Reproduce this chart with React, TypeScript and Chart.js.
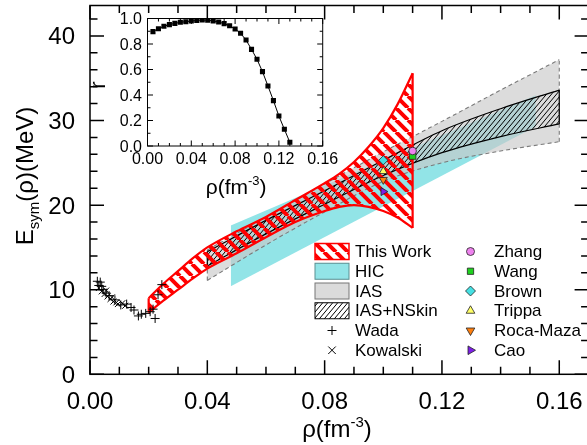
import { useEffect, useRef } from 'react';
import { Chart, registerables } from 'chart.js';

Chart.register(...registerables);

const FONT = "'Liberation Sans', Arial, Helvetica, sans-serif";

// ---------- main axes ----------
const X_MIN = 0;
const X_MAX = 0.17;
const Y_MIN = 0;
const Y_MAX = 43.6;
const xTickValues = [0, 0.04, 0.08, 0.12, 0.16];
const xTickLabels = ['0.00', '0.04', '0.08', '0.12', '0.16'];
const yTickValues = [0, 10, 20, 30, 40];
const yTickLabels = ['0', '10', '20', '30', '40'];

// ---------- This Work band ----------
const thisWorkRho = [0.02, 0.025, 0.03, 0.035, 0.04, 0.05, 0.06, 0.07, 0.08, 0.085, 0.09, 0.095, 0.1, 0.105, 0.11];
const thisWorkUpper = [9.0, 10.7, 12.2, 13.7, 15.0, 16.9, 18.6, 20.6, 22.6, 23.7, 25.1, 26.9, 29.1, 32.0, 35.6];
const thisWorkLower = [7.3, 8.7, 10.0, 11.3, 12.5, 14.3, 16.2, 18.0, 19.3, 19.8, 20.0, 19.8, 19.3, 18.5, 17.3];

// ---------- HIC band ----------
const hicRho = [0.048, 0.152];
const hicUpper = [17.6, 33.0];
const hicLower = [10.4, 29.3];

// ---------- IAS band ----------
const iasRho = [0.04, 0.06, 0.08, 0.1, 0.12, 0.14, 0.16];
const iasUpper = [14.7, 18.6, 22.5, 26.3, 29.9, 33.6, 37.2];
const iasLower = [11.1, 15.3, 19.2, 22.8, 25.0, 26.4, 27.5];

// ---------- IAS+NSkin band ----------
const nskinRho = [0.04, 0.06, 0.08, 0.1, 0.12, 0.14, 0.16];
const nskinUpper = [14.5, 18.2, 21.7, 25.3, 28.8, 31.4, 33.6];
const nskinLower = [12.8, 16.6, 20.1, 23.5, 26.2, 28.1, 29.6];

// ---------- Wada (+) ----------
const wadaRho = [0.0025, 0.003, 0.0035, 0.004, 0.0045, 0.0055, 0.0065, 0.0085, 0.0105, 0.0125, 0.014, 0.015, 0.0165, 0.0175, 0.019, 0.0205, 0.0215, 0.0222, 0.0232, 0.0245];
const wadaE = [11.0, 10.5, 10.9, 10.4, 10.0, 9.6, 9.3, 8.8, 8.2, 8.3, 7.9, 7.6, 6.9, 7.1, 7.2, 7.4, 7.7, 6.6, 9.4, 10.6];

// ---------- Kowalski (x) ----------
const kowalskiRho = [0.003, 0.004, 0.005, 0.0055, 0.006, 0.007, 0.0075, 0.008, 0.009, 0.0095, 0.011, 0.012];
const kowalskiE = [10.2, 9.8, 9.5, 9.9, 9.2, 8.9, 9.1, 8.6, 8.5, 8.3, 8.4, 8.1];

// ---------- single-point constraints ----------
const pointNames = ['Zhang', 'Wang', 'Brown', 'Trippa', 'Roca-Maza', 'Cao'];
const pointRho = [0.11, 0.11, 0.1, 0.1, 0.1, 0.1];
const pointE = [26.4, 25.8, 25.3, 24.0, 23.0, 21.6];
const pointColors = ['#ee82ee', '#1fd11f', '#45e0e3', '#ffff66', '#ff7f0e', '#7d1ee8'];
const pointShapes = ['circle', 'square', 'diamond', 'triUp', 'triDown', 'triRight'];

// ---------- inset ----------
const insetRho = [0.005, 0.01, 0.015, 0.02, 0.025, 0.03, 0.035, 0.04, 0.045, 0.05, 0.055, 0.06, 0.065, 0.07, 0.075, 0.08, 0.085, 0.09, 0.095, 0.1, 0.105, 0.11, 0.115, 0.12, 0.125, 0.13];
const insetR = [0.897, 0.92, 0.939, 0.952, 0.962, 0.97, 0.975, 0.98, 0.985, 0.988, 0.987, 0.981, 0.972, 0.96, 0.943, 0.918, 0.884, 0.831, 0.758, 0.68, 0.583, 0.471, 0.356, 0.235, 0.131, 0.029];
const insetXTicks = [0, 0.04, 0.08, 0.12, 0.16];
const insetXLabels = ['0.00', '0.04', '0.08', '0.12', '0.16'];
const insetYTicks = [0, 0.2, 0.4, 0.6, 0.8, 1.0];
const insetYLabels = ['0.0', '0.2', '0.4', '0.6', '0.8', '1.0'];

const legendLeft = ['This Work', 'HIC', 'IAS', 'IAS+NSkin', 'Wada', 'Kowalski'];

const HIC_COLOR = 'rgb(146,228,231)';
const IAS_COLOR = 'rgba(200,200,200,0.64)';

function makeStripePattern(w: number, h: number, color: string, lw: number, dir: 'back' | 'fwd') {
  const c = document.createElement('canvas');
  c.width = w;
  c.height = h;
  const g = c.getContext('2d')!;
  g.strokeStyle = color;
  g.lineWidth = lw;
  g.beginPath();
  for (let k = -1; k <= 1; k++) {
    if (dir === 'back') {
      g.moveTo(k * w, 0);
      g.lineTo(k * w + w, h);
    } else {
      g.moveTo(k * w, h);
      g.lineTo(k * w + w, 0);
    }
  }
  g.stroke();
  return g.createPattern(c, 'repeat')!;
}

type Part = { text: string; size: number; dy?: number };
function richWidth(ctx: CanvasRenderingContext2D, parts: Part[]) {
  let w = 0;
  for (const p of parts) {
    ctx.font = `${p.size}px ${FONT}`;
    w += ctx.measureText(p.text).width;
  }
  return w;
}
function drawRich(ctx: CanvasRenderingContext2D, parts: Part[], x: number, y: number) {
  ctx.textAlign = 'left';
  ctx.textBaseline = 'alphabetic';
  for (const p of parts) {
    ctx.font = `${p.size}px ${FONT}`;
    ctx.fillText(p.text, x, y + (p.dy || 0));
    x += ctx.measureText(p.text).width;
  }
}

function drawFrame(chart: any, xStep: number, xMajor: number[], yStep: number, yMajor: number[], majorLen: number, minorLen: number, lw: number) {
  const { ctx, chartArea: a } = chart;
  const xs = chart.scales.x;
  const ys = chart.scales.y;
  ctx.save();
  ctx.strokeStyle = '#000';
  ctx.lineWidth = lw;
  ctx.strokeRect(a.left, a.top, a.right - a.left, a.bottom - a.top);
  ctx.beginPath();
  for (let i = 0; ; i++) {
    const v = xs.min + i * xStep;
    if (v > xs.max + 1e-9) break;
    const major = xMajor.some((m) => Math.abs(m - v) < 1e-9);
    const len = major ? majorLen : minorLen;
    const px = xs.getPixelForValue(v);
    ctx.moveTo(px, a.bottom);
    ctx.lineTo(px, a.bottom - len);
    ctx.moveTo(px, a.top);
    ctx.lineTo(px, a.top + len);
  }
  for (let i = 0; ; i++) {
    const v = ys.min + i * yStep;
    if (v > ys.max + 1e-9) break;
    const major = yMajor.some((m) => Math.abs(m - v) < 1e-9);
    const len = major ? majorLen : minorLen;
    const py = ys.getPixelForValue(v);
    ctx.moveTo(a.left, py);
    ctx.lineTo(a.left + len, py);
    ctx.moveTo(a.right, py);
    ctx.lineTo(a.right - len, py);
  }
  ctx.stroke();
  ctx.restore();
}

function drawMarker(ctx: CanvasRenderingContext2D, shape: string, x: number, y: number, r: number, fill: string) {
  ctx.save();
  ctx.fillStyle = fill;
  ctx.strokeStyle = '#222';
  ctx.lineWidth = 0.8;
  ctx.beginPath();
  if (shape === 'circle') {
    ctx.arc(x, y, r, 0, Math.PI * 2);
  } else if (shape === 'square') {
    ctx.rect(x - r * 0.75, y - r * 0.75, r * 1.5, r * 1.5);
  } else if (shape === 'diamond') {
    ctx.moveTo(x, y - r);
    ctx.lineTo(x + r, y);
    ctx.lineTo(x, y + r);
    ctx.lineTo(x - r, y);
    ctx.closePath();
  } else if (shape.startsWith('tri')) {
    const rot = shape === 'triUp' ? 0 : shape === 'triDown' ? Math.PI : Math.PI / 2;
    for (let k = 0; k < 3; k++) {
      const ang = rot + (k * 2 * Math.PI) / 3;
      const px = x + Math.sin(ang) * r;
      const py = y - Math.cos(ang) * r;
      if (k === 0) ctx.moveTo(px, py);
      else ctx.lineTo(px, py);
    }
    ctx.closePath();
  } else if (shape === 'plus') {
    ctx.moveTo(x - r, y);
    ctx.lineTo(x + r, y);
    ctx.moveTo(x, y - r);
    ctx.lineTo(x, y + r);
    ctx.strokeStyle = '#000';
    ctx.lineWidth = 1;
    ctx.stroke();
    ctx.restore();
    return;
  } else if (shape === 'cross') {
    const d = r * 0.75;
    ctx.moveTo(x - d, y - d);
    ctx.lineTo(x + d, y + d);
    ctx.moveTo(x + d, y - d);
    ctx.lineTo(x - d, y + d);
    ctx.strokeStyle = '#000';
    ctx.lineWidth = 1;
    ctx.stroke();
    ctx.restore();
    return;
  }
  ctx.fill();
  ctx.stroke();
  ctx.restore();
}

const chartStyle: Record<string, [string, number]> = {
  circle: ['circle', 0],
  square: ['rect', 0],
  diamond: ['rectRot', 0],
  triUp: ['triangle', 0],
  triDown: ['triangle', 180],
  triRight: ['triangle', 90],
};

function pts(xs: number[], ys: number[]) {
  return xs.map((x, i) => ({ x, y: ys[i] }));
}

export default function App() {
  const mainRef = useRef<HTMLCanvasElement>(null);
  const insetRef = useRef<HTMLCanvasElement>(null);

  useEffect(() => {
    const redPat = makeStripePattern(12, 12, '#ff0000', 4, 'back');
    const blackPat = makeStripePattern(5, 6, '#000000', 1, 'fwd');

    const lineDs = (xs: number[], ys: number[], extra: any) => ({
      data: pts(xs, ys),
      showLine: true,
      pointRadius: 0,
      fill: false,
      ...extra,
    });
    const capDs = (x: number, y0: number, y1: number, extra: any) => ({
      data: [
        { x, y: y0 },
        { x, y: y1 },
      ],
      showLine: true,
      pointRadius: 0,
      fill: false,
      ...extra,
    });

    const redStyle = { borderColor: '#ff0000', borderWidth: 2.2, cubicInterpolationMode: 'monotone' };
    const nskinStyle = { borderColor: '#000', borderWidth: 1.2, cubicInterpolationMode: 'monotone' };
    const iasStyle = { borderColor: '#7a7a7a', borderWidth: 1.1, borderDash: [4, 3], cubicInterpolationMode: 'monotone' };
    const last = (a: number[]) => a[a.length - 1];

    const markerSets = pointNames.map((name, i) => ({
      label: name,
      data: [{ x: pointRho[i], y: pointE[i] }],
      showLine: false,
      pointStyle: chartStyle[pointShapes[i]][0],
      rotation: chartStyle[pointShapes[i]][1],
      pointRadius: pointShapes[i] === 'circle' ? 3.8 : 4.6,
      pointBackgroundColor: pointColors[i],
      pointBorderColor: '#222',
      pointBorderWidth: 0.8,
      order: 0,
    }));

    const datasets: any[] = [
      ...markerSets,
      {
        label: 'Wada',
        data: pts(wadaRho, wadaE),
        showLine: false,
        pointStyle: 'cross',
        pointRadius: 4.5,
        pointBorderColor: '#000',
        pointBorderWidth: 1,
        order: 1,
      },
      {
        label: 'Kowalski',
        data: pts(kowalskiRho, kowalskiE),
        showLine: false,
        pointStyle: 'crossRot',
        pointRadius: 4.2,
        pointBorderColor: '#000',
        pointBorderWidth: 1,
        order: 1,
      },
      // This Work
      lineDs(thisWorkRho, thisWorkUpper, { ...redStyle, fill: '+1', backgroundColor: redPat, order: 21 }),
      lineDs(thisWorkRho, thisWorkLower, { ...redStyle, order: 20 }),
      capDs(thisWorkRho[0], thisWorkLower[0], thisWorkUpper[0], { ...redStyle, order: 20 }),
      capDs(last(thisWorkRho), last(thisWorkLower), last(thisWorkUpper), { ...redStyle, order: 20 }),
      // IAS+NSkin
      lineDs(nskinRho, nskinUpper, { ...nskinStyle, fill: '+1', backgroundColor: blackPat, order: 31 }),
      lineDs(nskinRho, nskinLower, { ...nskinStyle, order: 30 }),
      capDs(nskinRho[0], nskinLower[0], nskinUpper[0], { ...nskinStyle, order: 30 }),
      capDs(last(nskinRho), last(nskinLower), last(nskinUpper), { ...nskinStyle, order: 30 }),
      // IAS
      lineDs(iasRho, iasUpper, { ...iasStyle, fill: '+1', backgroundColor: IAS_COLOR, order: 41 }),
      lineDs(iasRho, iasLower, { ...iasStyle, order: 40 }),
      capDs(iasRho[0], iasLower[0], iasUpper[0], { ...iasStyle, order: 40 }),
      capDs(last(iasRho), last(iasLower), last(iasUpper), { ...iasStyle, order: 40 }),
      // HIC
      lineDs(hicRho, hicUpper, { borderWidth: 0, borderColor: HIC_COLOR, fill: '+1', backgroundColor: HIC_COLOR, order: 51 }),
      lineDs(hicRho, hicLower, { borderWidth: 0, borderColor: HIC_COLOR, order: 51 }),
    ];

    const mainPlugin = {
      id: 'mainDecor',
      afterDraw(chart: any) {
        const { ctx, chartArea: a } = chart;
        const xs = chart.scales.x;
        const ys = chart.scales.y;
        drawFrame(chart, 0.01, xTickValues, 2, yTickValues, 14, 7.5, 1.5);
        ctx.save();
        ctx.fillStyle = '#000';
        ctx.font = `24px ${FONT}`;
        ctx.textAlign = 'center';
        ctx.textBaseline = 'alphabetic';
        xTickValues.forEach((v, i) => ctx.fillText(xTickLabels[i], xs.getPixelForValue(v), 409));
        ctx.textAlign = 'right';
        yTickValues.forEach((v, i) => ctx.fillText(yTickLabels[i], a.left - 15, ys.getPixelForValue(v) + 8.4));

        // x title
        const xt: Part[] = [
          { text: 'ρ(fm', size: 24 },
          { text: '-3', size: 15, dy: -10 },
          { text: ')', size: 24 },
        ];
        const xw = richWidth(ctx, xt);
        drawRich(ctx, xt, 337 - xw / 2, 437);

        // y title
        const yt: Part[] = [
          { text: 'E', size: 24 },
          { text: 'sym', size: 15, dy: 6 },
          { text: '(ρ)(MeV)', size: 24 },
        ];
        const yw = richWidth(ctx, yt);
        ctx.save();
        ctx.translate(33, 176);
        ctx.rotate(-Math.PI / 2);
        drawRich(ctx, yt, -yw / 2, 0);
        ctx.restore();

        // legend
        const rowY = (i: number) => 251.5 + i * 19.75;
        const sx = 315;
        const sw = 34;
        const sh = 16;
        legendLeft.forEach((name, i) => {
          const cy = rowY(i);
          if (i <= 3) {
            ctx.save();
            if (i === 0) {
              ctx.fillStyle = '#fff';
              ctx.fillRect(sx, cy - sh / 2, sw, sh);
              ctx.fillStyle = redPat;
              ctx.fillRect(sx, cy - sh / 2, sw, sh);
              ctx.strokeStyle = '#ff0000';
              ctx.lineWidth = 1.5;
            } else if (i === 1) {
              ctx.fillStyle = HIC_COLOR;
              ctx.fillRect(sx, cy - sh / 2, sw, sh);
              ctx.strokeStyle = '#5a8f91';
              ctx.lineWidth = 1;
            } else if (i === 2) {
              ctx.fillStyle = 'rgb(219,219,219)';
              ctx.fillRect(sx, cy - sh / 2, sw, sh);
              ctx.strokeStyle = '#777';
              ctx.lineWidth = 1;
            } else {
              ctx.fillStyle = '#fff';
              ctx.fillRect(sx, cy - sh / 2, sw, sh);
              ctx.fillStyle = blackPat;
              ctx.fillRect(sx, cy - sh / 2, sw, sh);
              ctx.strokeStyle = '#000';
              ctx.lineWidth = 1;
            }
            ctx.strokeRect(sx, cy - sh / 2, sw, sh);
            ctx.restore();
          } else if (i === 4) {
            drawMarker(ctx, 'plus', sx + sw / 2, cy, 4.5, '#000');
          } else {
            drawMarker(ctx, 'cross', sx + sw / 2, cy, 5, '#000');
          }
          ctx.fillStyle = '#000';
          ctx.font = `17px ${FONT}`;
          ctx.textAlign = 'left';
          ctx.textBaseline = 'middle';
          ctx.fillText(name, 355, cy + 1);
        });
        pointNames.forEach((name, i) => {
          const cy = rowY(i);
          const shape = pointShapes[i];
          const r = shape === 'circle' ? 4 : shape === 'square' ? 4.2 : 5;
          drawMarker(ctx, shape, 470.5, cy, r, pointColors[i]);
          ctx.fillStyle = '#000';
          ctx.font = `17px ${FONT}`;
          ctx.textAlign = 'left';
          ctx.textBaseline = 'middle';
          ctx.fillText(name, 494, cy + 1);
        });
        ctx.restore();
      },
    };

    const main = new Chart(mainRef.current!, {
      type: 'line',
      data: { datasets },
      options: {
        responsive: false,
        animation: false,
        devicePixelRatio: 1,
        events: [],
        layout: { padding: { left: 90, top: 5, right: 600 - 588.6, bottom: 445 - 374.3 } },
        scales: {
          x: { type: 'linear', min: X_MIN, max: X_MAX, display: false },
          y: { type: 'linear', min: Y_MIN, max: Y_MAX, display: false },
        },
        plugins: { legend: { display: false }, tooltip: { enabled: false } },
      } as any,
      plugins: [mainPlugin],
    });

    const insetPlugin = {
      id: 'insetDecor',
      beforeDraw(chart: any) {
        const { ctx, chartArea: a } = chart;
        ctx.save();
        ctx.fillStyle = '#fff';
        ctx.fillRect(a.left, a.top, a.right - a.left, a.bottom - a.top);
        ctx.restore();
      },
      afterDraw(chart: any) {
        const { ctx, chartArea: a } = chart;
        const xs = chart.scales.x;
        const ys = chart.scales.y;
        drawFrame(chart, 0.01, insetXTicks, 0.1, insetYTicks, 5.5, 3, 1);
        ctx.save();
        ctx.fillStyle = '#000';
        ctx.font = `16px ${FONT}`;
        ctx.textAlign = 'center';
        ctx.textBaseline = 'alphabetic';
        insetXTicks.forEach((v, i) => ctx.fillText(insetXLabels[i], xs.getPixelForValue(v), 164));
        ctx.textAlign = 'right';
        insetYTicks.forEach((v, i) => ctx.fillText(insetYLabels[i], a.left - 5.5, ys.getPixelForValue(v) + 5.7));
        const t: Part[] = [
          { text: 'ρ(fm', size: 21 },
          { text: '-3', size: 13, dy: -9 },
          { text: ')', size: 21 },
        ];
        const tw = richWidth(ctx, t);
        drawRich(ctx, t, (a.left + a.right) / 2 - tw / 2 + 1, 193.5);
        ctx.save();
        ctx.translate(105, 85);
        ctx.rotate(-Math.PI / 2);
        ctx.font = `22px ${FONT}`;
        ctx.textAlign = 'center';
        ctx.textBaseline = 'alphabetic';
        ctx.fillText('r', 0, 0);
        ctx.restore();
        ctx.restore();
      },
    };

    const inset = new Chart(insetRef.current!, {
      type: 'line',
      data: {
        datasets: [
          {
            label: 'r',
            data: pts(insetRho, insetR),
            showLine: true,
            borderColor: '#000',
            borderWidth: 1,
            pointStyle: 'rect',
            pointRadius: 3.6,
            pointBackgroundColor: '#000',
            pointBorderWidth: 0,
            fill: false,
          },
        ],
      },
      options: {
        responsive: false,
        animation: false,
        devicePixelRatio: 1,
        events: [],
        layout: { padding: { left: 147.5, top: 18.5, right: 587 - 322.7, bottom: 445 - 146 } },
        scales: {
          x: { type: 'linear', min: 0, max: 0.16, display: false },
          y: { type: 'linear', min: 0, max: 1.0, display: false },
        },
        plugins: { legend: { display: false }, tooltip: { enabled: false } },
      } as any,
      plugins: [insetPlugin],
    });

    return () => {
      main.destroy();
      inset.destroy();
    };
  }, []);

  return (
    <div style={{ position: 'fixed', left: 0, top: 0, width: 587, height: 445, overflow: 'hidden', background: '#fff' }}>
      <canvas ref={mainRef} width={600} height={445} style={{ position: 'absolute', left: 0, top: 0 }} />
      <canvas ref={insetRef} width={587} height={445} style={{ position: 'absolute', left: 0, top: 0 }} />
    </div>
  );
}
